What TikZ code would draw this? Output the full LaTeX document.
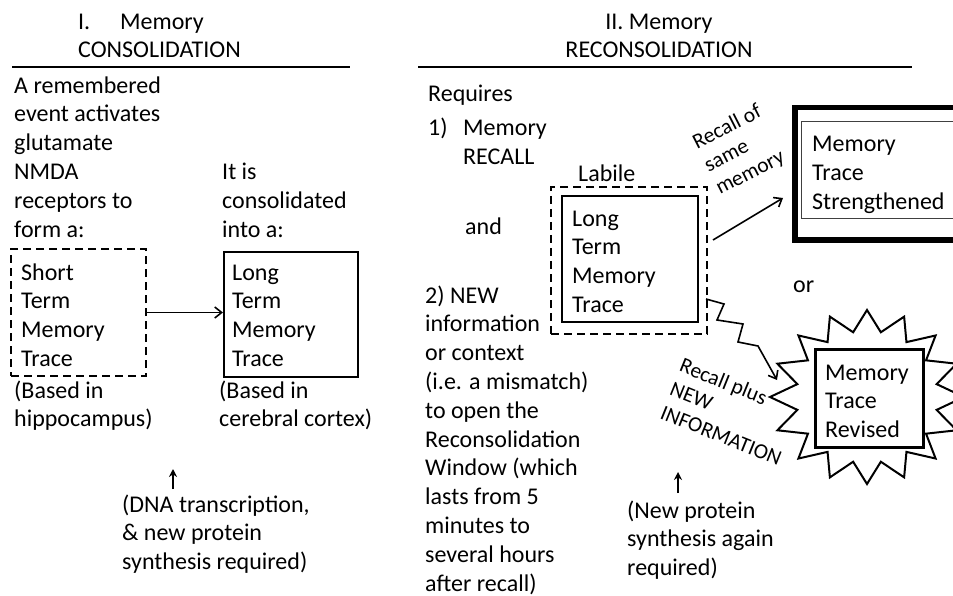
\documentclass[tikz,border=0pt]{standalone}
\usepackage{fontspec}
\setmainfont{Carlito}
\usetikzlibrary{arrows.meta,calc}
\begin{document}
\begin{tikzpicture}[x=1pt,y=-1pt,
  txt/.style={inner sep=0pt, anchor=base west, align=left, font=\fontsize{24}{28.8}\selectfont},
  ctxt/.style={inner sep=0pt, anchor=base, align=center, font=\fontsize{24}{28.8}\selectfont},
  rtxt/.style={inner sep=0pt, anchor=base west, align=left, font=\fontsize{21.5}{25.5}\selectfont},
  dbox/.style={draw, line width=2pt, dash pattern=on 8pt off 5pt, inner sep=0pt, anchor=north west},
  sbox/.style={draw, line width=1.6pt, inner sep=0pt, anchor=north west},
  arr/.style={-{Straight Barb[length=7pt,width=11pt]}, line width=1.6pt},
  uparr/.style={-{Stealth[length=8pt,width=8pt]}, line width=1.8pt},
  rulebar/.style={line width=2.6pt}]
\useasboundingbox (0,0) rectangle (953,596);

% ---------- headings ----------
\node[txt] (h1a) at (78,30) {I.};
\node[txt] (h1b) at (120,30) {Memory};
\node[txt] (h1c) at (78,58) {CONSOLIDATION};
\coordinate (r1a) at (12,67);
\coordinate (r1b) at (350,67);
\draw[rulebar] (r1a) -- (r1b);

\node[ctxt] (h2a) at (659,30) {II. Memory};
\node[ctxt] (h2b) at (659,58) {RECONSOLIDATION};
\coordinate (r2a) at (418,67);
\coordinate (r2b) at (912,67);
\draw[rulebar] (r2a) -- (r2b);

% ---------- part I ----------
% (multi-line nodes: base = baseline of the last line)
\node[txt] (intro) at (14,237) {A remembered\\event activates\\glutamate\\NMDA\\receptors to\\form a:};
\node[txt] (cons) at (222,237.6) {It is\\consolidated\\into a:};

\node[dbox, minimum width=135pt, minimum height=127pt] (stm) at (10,248) {};
\node[txt] (stmt) at (21,366.4) {Short\\Term\\Memory\\Trace};
\node[sbox, minimum width=134pt, minimum height=125pt] (ltm) at (223,251) {};
\node[txt] (ltmt) at (232,366.4) {Long\\Term\\Memory\\Trace};
\draw[arr] (stm.east) -- (stm.east -| ltm.west);

\node[txt] (hip) at (14,426.8) {(Based in\\hippocampus)};
\node[txt] (cor) at (219,426.8) {(Based in\\cerebral cortex)};

\coordinate (u1a) at (173,489);
\coordinate (u1b) at (173,469);
\draw[uparr] (u1a) -- (u1b);
\node[txt] (dna) at (122,569.6) {(DNA transcription,\\\& new protein\\synthesis required)};

% ---------- part II ----------
\node[txt] (req) at (428,102) {Requires};
\node[txt] (one) at (428,136) {1)};
\node[txt] (recall) at (463,164.8) {Memory\\RECALL};
\node[txt] (and) at (465,235) {and};
\node[txt] (two) at (425,591) {2) NEW\\information\\or context\\(i.e. a mismatch)\\to open the\\Reconsolidation\\Window (which\\lasts from 5\\minutes to\\several hours\\after recall)};

\node[txt] (lab) at (578,182) {Labile};
\node[dbox, minimum width=156pt, minimum height=147pt] (lbox) at (550,186) {};
\node[sbox, minimum width=136pt, minimum height=126pt] (lin) at (561,195) {};
\node[txt] (lint) at (572,312.4) {Long\\Term\\Memory\\Trace};

% strengthened
\node[draw, line width=5.5pt, inner sep=0pt, anchor=north west, minimum width=170pt, minimum height=132pt] (sout) at (792,105) {};
\node[draw, black!75, line width=1.2pt, inner sep=0pt, anchor=north west, minimum width=152pt, minimum height=97pt] (sin) at (801,121) {};
\node[txt] (strt) at (812,209.6) {Memory\\Trace\\Strengthened};

\coordinate (a1) at (713,240);
\coordinate (a2) at (783,198);
\draw[arr] (a1) -- (a2);
\node[rtxt, rotate=27] (rsame) at (720,195) {Recall of\\same\\memory};

\node[txt] (or) at (793,292) {or};

% starburst
\coordinate (sc) at (867,397);
\draw[line width=2pt, line join=miter]
  plot[samples at={0,...,31}, variable=\k]
  ({867+(mod(\k,2)==0 ? 97 : 71)*cos(\k*11.25)}, {397+(mod(\k,2)==0 ? 87 : 66)*sin(\k*11.25)}) -- cycle;
\node[draw, line width=2.6pt, inner sep=0pt, anchor=north west, minimum width=108pt, minimum height=98pt, fill=white] (rev) at (814,348) {};
\node[txt] (revt) at (825,437.6) {Memory\\Trace\\Revised};

% zigzag
\coordinate (z0) at (706,299);
\coordinate (z1) at (724,304);
\coordinate (z2) at (717,320);
\coordinate (z3) at (743,324);
\coordinate (z4) at (738,342);
\coordinate (z5) at (758,346);
\coordinate (z6) at (777,380);
\draw[arr, line join=miter] (z0) -- (z1) -- (z2) -- (z3) -- (z4) -- (z5) -- (z6);
\node[rtxt, rotate=-22] (rplus) at (659,418) {Recall plus\\NEW\\INFORMATION};

\coordinate (u2a) at (678,493);
\coordinate (u2b) at (678,472);
\draw[uparr] (u2a) -- (u2b);
\node[txt] (newp) at (627,575.6) {(New protein\\synthesis again\\required)};
\end{tikzpicture}
\end{document}
